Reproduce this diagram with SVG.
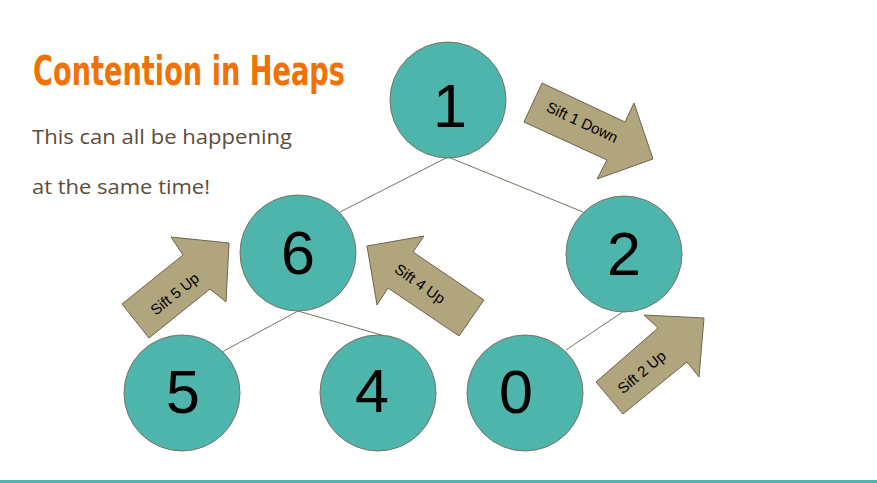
<svg xmlns="http://www.w3.org/2000/svg" width="877" height="483" viewBox="0 0 877 483">
  <style>
    .title { font-family: "DejaVu Sans Condensed", "Liberation Sans", sans-serif; font-weight: bold; font-size: 41px; fill: #f07206; }
    .body { font-family: "Open Sans", "Liberation Sans", sans-serif; font-size: 20px; fill: #5b4d3b; }
    .node circle { fill: #4db5ab; stroke: #7b7262; stroke-width: 1; }
    .node text { font-family: "Liberation Sans", Arial, sans-serif; font-size: 61px; fill: #000; text-anchor: middle; }
    .edges line { stroke: #7b7262; stroke-width: 1; }
    .arrow polygon { fill: #b1a57e; stroke: #6e6450; stroke-width: 1; }
    .arrow text { font-family: "Liberation Sans", Arial, sans-serif; font-size: 15px; fill: #000; text-anchor: middle; }
  </style>

  <rect width="877" height="483" fill="#ffffff"/>

  <text class="title" x="33" y="85" textLength="312" lengthAdjust="spacingAndGlyphs">Contention in Heaps</text>
  <text class="body" x="32" y="144" textLength="260" lengthAdjust="spacingAndGlyphs">This can all be happening</text>
  <text class="body" x="32" y="194" textLength="178" lengthAdjust="spacingAndGlyphs">at the same time!</text>

  <g class="edges">
    <line x1="448" y1="157" x2="340" y2="212"/>
    <line x1="448" y1="157" x2="583" y2="212"/>
    <line x1="298" y1="311" x2="222" y2="352"/>
    <line x1="298" y1="311" x2="385" y2="336"/>
    <line x1="624" y1="311" x2="566" y2="350"/>
  </g>

  <g id="node-1" class="node"><circle cx="448" cy="100" r="58"/><text x="450" y="127">1</text></g>
  <g id="node-6" class="node"><circle cx="298" cy="253" r="58"/><text x="298" y="274">6</text></g>
  <g id="node-2" class="node"><circle cx="624" cy="254" r="58"/><text x="624" y="275">2</text></g>
  <g id="node-5" class="node"><circle cx="182" cy="393" r="58"/><text x="183" y="413">5</text></g>
  <g id="node-4" class="node"><circle cx="378" cy="393" r="58"/><text x="372" y="412">4</text></g>
  <g id="node-0" class="node"><circle cx="525" cy="393" r="58"/><text x="516" y="413">0</text></g>

  <g id="arrow-sift-1-down" class="arrow">
    <polygon points="542,83 625,122 634,103 653,159 597,179 607,160 524,122"/>
    <text transform="translate(580,127) rotate(25)">Sift 1 Down</text>
  </g>
  <g id="arrow-sift-5-up" class="arrow">
    <polygon points="122,304 183,255 171,237 229,243 226,302 210,289 149,338"/>
    <text transform="translate(178,298) rotate(-39)">Sift 5 Up</text>
  </g>
  <g id="arrow-sift-4-up" class="arrow">
    <polygon points="367,246 424,236 413,252 484,300 459,336 388,288 377,305"/>
    <text transform="translate(417,288) rotate(35)">Sift 4 Up</text>
  </g>
  <g id="arrow-sift-2-up" class="arrow">
    <polygon points="596,382 658,328 644,315 704,318 699,377 687,362 623,414"/>
    <text transform="translate(645,376) rotate(-40)">Sift 2 Up</text>
  </g>

  <rect x="0" y="480" width="877" height="3" fill="#4db5ab"/>
</svg>
